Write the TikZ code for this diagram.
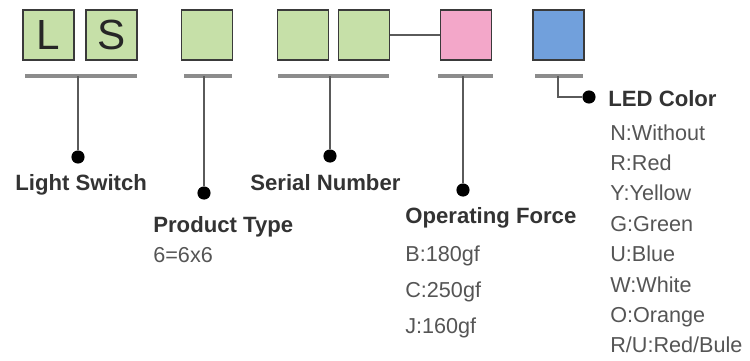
\documentclass[tikz,border=0pt]{standalone}
\usepackage{fontspec}
\setmainfont{Liberation Sans}
\usepackage{tikz}
\usetikzlibrary{positioning}
\definecolor{Ink}{HTML}{3A3A3A}
\definecolor{Stem}{HTML}{5A5A5A}
\definecolor{Rule}{HTML}{8C8C8C}
\definecolor{Leaf}{HTML}{C6E0A8}
\definecolor{Rose}{HTML}{F3A7C9}
\definecolor{Sky}{HTML}{71A0DC}
\definecolor{Label}{HTML}{333333}
\definecolor{Note}{HTML}{555555}

\begin{document}
\begin{tikzpicture}[x=0.02cm, y=-0.02cm,
    every node/.style={inner sep=0pt},
    codebox/.style={draw=Ink, line width=1.1pt, minimum width=1.02cm, minimum height=1cm,
      font=\fontsize{24}{26}\selectfont, text=black!85},
    underline/.style={Rule, line width=2.6pt},
    stem/.style={Stem, line width=1.5pt},
    pin/.style={circle, fill=black, minimum size=7.5pt},
    title/.style={anchor=base west, font=\fontsize{12.6}{14}\selectfont\bfseries, text=Label},
    option/.style={anchor=base west, font=\fontsize{12.3}{14}\selectfont, text=Note}]
  \useasboundingbox (0,0) rectangle (750,360);
  \node[codebox, fill=Leaf] (l) at (48.5,35) {L};
  \node[codebox, fill=Leaf] (s) at (111.5,35) {S};
  \node[codebox, fill=Leaf] (type) at (207,35) {};
  \node[codebox, fill=Leaf] (ser1) at (303,35) {};
  \node[codebox, fill=Leaf] (ser2) at (364,35) {};
  \node[codebox, fill=Rose] (force) at (466,35) {};
  \node[codebox, fill=Sky] (led) at (558.5,35) {};
  \draw[Stem, line width=1.5pt] (ser2.east) -- (force.west);

  \draw[underline] (25,76) -- (137,76);
  \draw[underline] (184,76) -- (232,76);
  \draw[underline] (278,76) -- (389,76);
  \draw[underline] (438,76) -- (493,76);
  \draw[underline] (535,76) -- (583,76);
  \coordinate (lsfoot) at (78,76);
  \coordinate (typefoot) at (204,76);
  \coordinate (serfoot) at (330,76);
  \coordinate (forcefoot) at (463,76);
  \coordinate (ledfoot) at (558,76);

  \node[pin] (lsdot) at (78,157) {};
  \node[pin] (typedot) at (204,193) {};
  \node[pin] (serdot) at (330,156) {};
  \node[pin] (forcedot) at (463,190) {};
  \node[pin] (leddot) at (589,97) {};
  \draw[stem] (lsfoot) -- (lsdot);
  \draw[stem] (typefoot) -- (typedot);
  \draw[stem] (serfoot) -- (serdot);
  \draw[stem] (forcefoot) -- (forcedot);
  \draw[stem] (ledfoot) |- (leddot);

  \node[title] (lstext) at (15,190) {Light Switch};
  \node[title] (sertext) at (250,190) {Serial Number};
  \node[title] (typetext) at (153,232) {Product Type};
  \node[option] at (153,262) {6=6x6};
  \node[title] (forcetext) at (405,223) {Operating Force};
  \node[option] at (405,261) {B:180gf};
  \node[option] at (405,297) {C:250gf};
  \node[option] at (405,333) {J:160gf};
  \node[title] (ledtext) at (608,106) {LED Color};
  \foreach \txt [count=\i from 0] in {N:Without, R:Red, Y:Yellow, G:Green, U:Blue, W:White, O:Orange, R/U:Red/Bule}
    \node[option] at (610,{140+30.4*\i}) {\txt};
\end{tikzpicture}
\end{document}
